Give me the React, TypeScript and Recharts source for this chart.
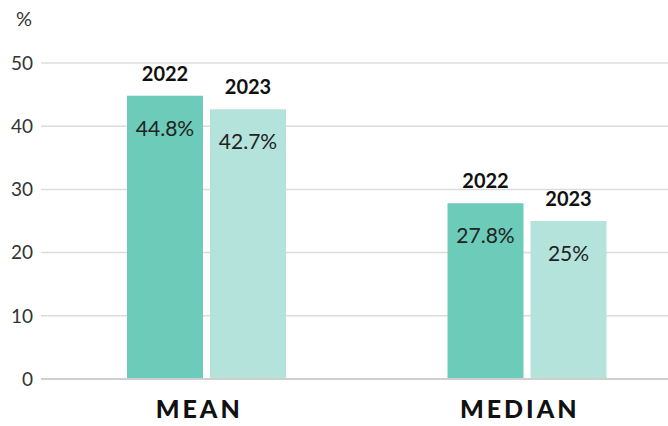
import React from 'react';
import { BarChart, Bar, XAxis, YAxis, CartesianGrid, LabelList } from 'recharts';

const categories = ['MEAN', 'MEDIAN'];
const values2022 = [44.8, 27.8];
const values2023 = [42.7, 25];
const yTicks = [0, 10, 20, 30, 40, 50];

const data = categories.map((name, i) => ({
  name,
  y2022: values2022[i],
  y2023: values2023[i],
}));

const FONT = 'Lato, "Open Sans", sans-serif';

const pct = (v: any) => `${v}%`;

function CategoryTick(props: any) {
  const { x, y, payload } = props;
  // original labels sit slightly left of the bar pair centre
  return (
    <text
      x={x - 7}
      y={y}
      dy="0.71em"
      textAnchor="middle"
      fill="#111"
      style={{ fontSize: 25, fontWeight: 900, fontFamily: FONT, letterSpacing: 3 }}
    >
      {payload.value}
    </text>
  );
}

export default function App() {
  return (
    <div style={{ position: 'absolute', left: 0, top: 0, width: 668, height: 426, overflow: 'hidden', background: '#fff', fontFamily: FONT }}>
      <span style={{ position: 'absolute', left: 16, top: 6, fontSize: 20, color: '#333' }}>%</span>
      <BarChart
        width={690}
        height={426}
        data={data}
        margin={{ top: 63, right: 3, left: 0, bottom: 0 }}
        barSize={76}
        barGap={7}
      >
        <CartesianGrid vertical={false} stroke="#dcdcdc" strokeWidth={1.5} />
        <XAxis
          dataKey="name"
          height={47}
          padding={{ left: 5, right: 0 }}
          tickLine={false}
          tickSize={0}
          tickMargin={21}
          axisLine={{ stroke: '#cfcfcf', strokeWidth: 2 }}
          tick={<CategoryTick />}
        />
        <YAxis
          width={41}
          domain={[0, 50]}
          ticks={yTicks}
          axisLine={false}
          tickLine={false}
          tickSize={0}
          tickMargin={8}
          tick={{ fontSize: 19, fill: '#333', fontFamily: FONT }}
        />
        <Bar dataKey="y2022" fill="#6ccbb9" isAnimationActive={false}>
          <LabelList position="top" offset={15} valueAccessor={() => '2022'} style={{ fontSize: 20, fontWeight: 700, fill: '#111', fontFamily: FONT }} />
          <LabelList dataKey="y2022" position="insideTop" offset={25} formatter={pct} style={{ fontSize: 21, fill: '#222', fontFamily: FONT }} />
        </Bar>
        <Bar dataKey="y2023" fill="#b4e3dc" isAnimationActive={false}>
          <LabelList position="top" offset={15} valueAccessor={() => '2023'} style={{ fontSize: 20, fontWeight: 700, fill: '#111', fontFamily: FONT }} />
          <LabelList dataKey="y2023" position="insideTop" offset={25} formatter={pct} style={{ fontSize: 21, fill: '#222', fontFamily: FONT }} />
        </Bar>
      </BarChart>
    </div>
  );
}
